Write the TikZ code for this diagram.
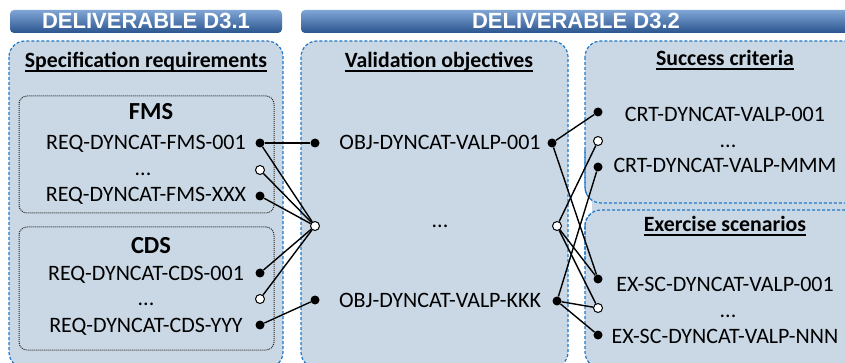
\documentclass[tikz,border=0pt]{standalone}
\usepackage{fontspec}
\setmainfont{Carlito}
\newfontfamily\hdrfont{Liberation Sans}
\definecolor{panelfill}{RGB}{202,216,229}
\definecolor{dashblue}{RGB}{30,120,200}
\definecolor{hdrtop}{RGB}{128,166,214}
\definecolor{hdrbot}{RGB}{42,84,142}
\begin{document}
\begin{tikzpicture}[x=1pt,y=-1pt,
  panel/.style={draw=dashblue, dash pattern=on 3pt off 2pt, line width=1.2pt, fill=panelfill, rounded corners=16pt},
  hdr/.style={rounded corners=4pt, top color=hdrtop, bottom color=hdrbot},
  hdrtext/.style={anchor=base, inner sep=0, text=white, font=\hdrfont\bfseries\fontsize{22}{24}\selectfont},
  dotbox/.style={draw=black!85, dash pattern=on 1pt off 1pt, line width=1pt, rounded corners=8pt},
  lbl/.style={anchor=base, inner sep=0, font=\fontsize{22}{26}\selectfont},
  ttl/.style={anchor=base, inner sep=0, font=\bfseries\fontsize{21.8}{26}\selectfont},
  grp/.style={anchor=base, inner sep=0, font=\bfseries\fontsize{24.5}{28}\selectfont},
  fdot/.style={circle, fill=black, inner sep=0, minimum size=9pt},
  odot/.style={circle, draw=black, fill=white, line width=1pt, inner sep=0, minimum size=9pt},
  link/.style={line width=1.4pt},
  uline/.style={line width=1.4pt}]
\useasboundingbox (0,0) rectangle (845,363);
\clip (0,0) rectangle (845,363);
% headers
\path[hdr] (10,10) rectangle (282,33);
\node[hdrtext] (h1) at (146,29) {DELIVERABLE D3.1};
\path[hdr] (301,10) rectangle (870,33);
\node[hdrtext] (h2) at (576,29) {DELIVERABLE D3.2};
% panels
\path[panel] (9,41) rectangle (283,368);
\path[panel] (301,41) rectangle (568,368);
\path[panel] (585,41) rectangle (870,203);
\path[panel] (585,210) rectangle (870,368);
\fill[panelfill] (592,195) rectangle (870,218);
\draw[draw=dashblue, dash pattern=on 3pt off 2pt, line width=1.2pt, rounded corners=16pt] (585,150) -- (585,203) -- (870,203);
\draw[draw=dashblue, dash pattern=on 3pt off 2pt, line width=1.2pt, rounded corners=16pt] (870,210) -- (585,210) -- (585,260);
% inner dotted boxes
\draw[dotbox] (19,96) rectangle (274,213);
\draw[dotbox] (19,227) rectangle (274,350);
% titles
\node[ttl] (t1) at (146,68) {Specification requirements};
\draw[uline] ([yshift=-3pt]t1.base west) -- ([yshift=-3pt]t1.base east);
\node[ttl] (t2) at (439,68) {Validation objectives};
\draw[uline] ([yshift=-3pt]t2.base west) -- ([yshift=-3pt]t2.base east);
\node[ttl] (t3) at (725,66) {Success criteria};
\draw[uline] ([yshift=-3pt]t3.base west) -- ([yshift=-3pt]t3.base east);
\node[ttl] (t4) at (725,232) {Exercise scenarios};
\draw[uline] ([yshift=-3pt]t4.base west) -- ([yshift=-3pt]t4.base east);
\node[grp] (gf) at (151,120) {FMS};
\node[grp] (gc) at (151,253) {CDS};
% left labels
\node[lbl] (r1) at (146,150) {REQ-DYNCAT-FMS-001};
\node[lbl] (r2) at (143,176) {...};
\node[lbl] (r3) at (146,202) {REQ-DYNCAT-FMS-XXX};
\node[lbl] (r4) at (146,280) {REQ-DYNCAT-CDS-001};
\node[lbl] (r5) at (146,305) {...};
\node[lbl] (r6) at (146,332) {REQ-DYNCAT-CDS-YYY};
% middle labels
\node[lbl] (o1) at (440,150) {OBJ-DYNCAT-VALP-001};
\node[lbl] (o2) at (440,228) {...};
\node[lbl] (o3) at (440,307) {OBJ-DYNCAT-VALP-KKK};
% right labels
\node[lbl] (c1) at (725,122) {CRT-DYNCAT-VALP-001};
\node[lbl] (c2) at (728,148) {...};
\node[lbl] (c3) at (725,173) {CRT-DYNCAT-VALP-MMM};
\node[lbl] (e1) at (725,291) {EX-SC-DYNCAT-VALP-001};
\node[lbl] (e2) at (728,317) {...};
\node[lbl] (e3) at (725,343) {EX-SC-DYNCAT-VALP-NNN};
% dots
\node[fdot] (dr1) at (260,143) {};
\node[odot] (dr2) at (260,170) {};
\node[fdot] (dr3) at (260,196) {};
\node[fdot] (dr4) at (260,273) {};
\node[odot] (dr5) at (260,299) {};
\node[fdot] (dr6) at (260,325) {};
\node[fdot] (do1l) at (315,143) {};
\node[odot] (do2l) at (315,226) {};
\node[fdot] (do3l) at (315,300) {};
\node[fdot] (do1r) at (552,143) {};
\node[odot] (do2r) at (557,226) {};
\node[fdot] (do3r) at (557,301) {};
\node[fdot] (dc1) at (598,112) {};
\node[odot] (dc2) at (598,141) {};
\node[fdot] (dc3) at (598,167) {};
\node[fdot] (de1) at (598,279) {};
\node[odot] (de2) at (598,308) {};
\node[fdot] (de3) at (598,335) {};
% links left
\draw[link] (dr1) -- (do1l);
\draw[link] (dr1) -- (do2l);
\draw[link] (dr2) -- (do2l);
\draw[link] (dr3) -- (do2l);
\draw[link] (dr4) -- (do2l);
\draw[link] (dr5) -- (do2l);
\draw[link] (dr6) -- (do3l);
% links right
\draw[link] (do1r) -- (dc1);
\draw[link] (do1r) -- (de1);
\draw[link] (do2r) -- (dc2);
\draw[link] (do2r) -- (de1);
\draw[link] (do2r) -- (de2);
\draw[link] (do3r) -- (dc3);
\draw[link] (do3r) -- (de2);
\draw[link] (do3r) -- (de3);
\end{tikzpicture}
\end{document}
